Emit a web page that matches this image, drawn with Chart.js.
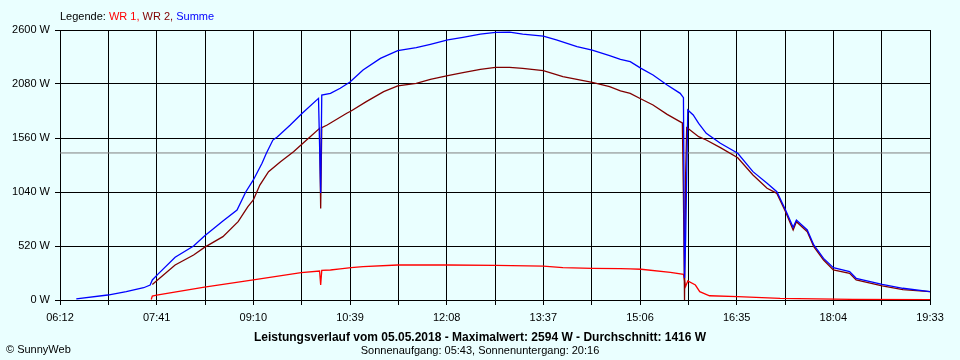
<!DOCTYPE html>
<html>
<head>
<meta charset="utf-8">
<script src="https://cdn.jsdelivr.net/npm/chart.js@4/dist/chart.umd.min.js"></script>
<style>
  body { margin: 0; background: #eaffff; font-family: "Liberation Sans", Arial, sans-serif; }
  #wrap { position: relative; width: 960px; height: 360px; }
  .txt { position: absolute; font-size: 11px; line-height: 13px; white-space: nowrap; color: #000; }
</style>
</head>
<body>
<div id="wrap">
  <canvas id="chart" width="960" height="360"></canvas>
  <div class="txt" style="left:60px; top:10px;">Legende: <span style="color:#ff0000">WR 1,</span> <span style="color:#800000">WR 2,</span> <span style="color:#0000ff">Summe</span></div>
  <div class="txt" style="left:0; width:960px; top:330px; text-align:center; font-weight:bold; font-size:12px; line-height:14px;">Leistungsverlauf vom 05.05.2018 - Maximalwert: 2594 W - Durchschnitt: 1416 W</div>
  <div class="txt" style="left:0; width:960px; top:344px; text-align:center;">Sonnenaufgang: 05:43, Sonnenuntergang: 20:16</div>
  <div class="txt" style="left:6px; top:343px;">&copy; SunnyWeb</div>
</div>
<script>
// axis labels
const tickTimes = ['06:12', '07:41', '09:10', '10:39', '12:08', '13:37', '15:06', '16:35', '18:04', '19:33'];
const yTicks = [0, 520, 1040, 1560, 2080, 2600];
const avgValue = 1416;

// WR 1
const wr1Times = ['07:36', '07:37', '07:41', '08:25', '09:10', '09:54', '10:11', '10:12', '10:13', '10:21', '10:30', '10:40', '10:51', '11:23', '12:09', '12:53', '13:37', '13:55', '14:22', '14:48', '14:57', '15:07', '15:34', '15:46', '15:48', '15:50', '15:57', '16:01', '16:10', '16:36', '17:15', '18:22', '19:33'];
const wr1Values = [5, 38, 48, 125, 193, 263, 279, 144, 285, 289, 299, 311, 321, 337, 337, 334, 327, 311, 305, 302, 299, 296, 267, 247, 130, 183, 144, 80, 41, 32, 16, 6, 3];

// WR 2
const wr2Times = ['07:37', '07:41', '07:58', '08:15', '08:25', '08:42', '08:56', '09:05', '09:10', '09:16', '09:24', '09:35', '09:47', '09:59', '10:11', '10:12', '10:13', '10:18', '10:36', '10:40', '10:54', '11:10', '11:23', '11:40', '11:53', '12:09', '12:23', '12:39', '12:53', '13:06', '13:18', '13:37', '13:55', '14:22', '14:38', '14:48', '14:57', '15:07', '15:18', '15:31', '15:44', '15:45', '15:46', '15:47', '15:48', '15:49', '15:50', '16:00', '16:07', '16:20', '16:36', '16:50', '17:03', '17:12', '17:20', '17:27', '17:30', '17:40', '17:46', '17:55', '18:04', '18:19', '18:25', '18:49', '19:08', '19:33'];
const wr2Values = [150, 186, 337, 433, 507, 610, 754, 899, 963, 1107, 1236, 1332, 1428, 1541, 1653, 880, 1660, 1685, 1798, 1820, 1910, 2006, 2061, 2087, 2125, 2160, 2189, 2221, 2241, 2241, 2231, 2208, 2150, 2096, 2054, 2013, 1990, 1936, 1878, 1788, 1711, 1705, 1000, 0, 1200, 1660, 1653, 1573, 1541, 1467, 1370, 1204, 1076, 1027, 850, 674, 754, 658, 514, 385, 289, 257, 193, 135, 99, 80];

// Summe
const sumTimes = ['06:27', '06:56', '07:13', '07:29', '07:35', '07:37', '07:42', '07:58', '08:15', '08:25', '08:42', '08:55', '09:03', '09:10', '09:18', '09:22', '09:28', '09:32', '09:44', '09:55', '10:10', '10:12', '10:13', '10:21', '10:30', '10:39', '10:51', '11:07', '11:23', '11:40', '11:53', '12:09', '12:23', '12:39', '12:53', '13:06', '13:18', '13:37', '13:49', '14:08', '14:22', '14:38', '14:48', '14:57', '15:07', '15:18', '15:31', '15:43', '15:46', '15:47', '15:48', '15:50', '15:55', '16:00', '16:07', '16:20', '16:36', '16:50', '17:03', '17:12', '17:20', '17:27', '17:30', '17:40', '17:46', '17:55', '18:04', '18:19', '18:25', '18:49', '19:08', '19:33'];
const sumValues = [10, 48, 80, 118, 144, 193, 247, 411, 520, 616, 761, 867, 1040, 1156, 1316, 1413, 1540, 1570, 1685, 1798, 1942, 1030, 1974, 1990, 2039, 2100, 2215, 2327, 2401, 2430, 2462, 2504, 2530, 2561, 2577, 2580, 2561, 2542, 2504, 2440, 2407, 2353, 2318, 2295, 2231, 2167, 2071, 1990, 1948, 212, 578, 1830, 1782, 1701, 1605, 1509, 1413, 1236, 1124, 1043, 867, 700, 770, 674, 530, 401, 311, 273, 209, 151, 113, 80];

function toMin(s) {
  const parts = s.split(':').map(Number);
  return parts[0] * 60 + parts[1];
}
function fmtTime(v) {
  const h = Math.floor(v / 60), m = Math.round(v % 60);
  return String(h).padStart(2, '0') + ':' + String(m).padStart(2, '0');
}
function points(times, values) {
  return times.map((t, i) => ({ x: toMin(t), y: values[i] }));
}

const labelMins = tickTimes.map(toMin);
// grid lines: every label plus one halfway between
const gridMins = [];
labelMins.forEach((v, i) => {
  gridMins.push(v);
  if (i < labelMins.length - 1) gridMins.push((v + labelMins[i + 1]) / 2);
});
const xMin = labelMins[0], xMax = labelMins[labelMins.length - 1];

new Chart(document.querySelector('#chart'), {
  type: 'line',
  data: {
    datasets: [
      { label: 'Summe', data: points(sumTimes, sumValues), borderColor: '#0000ff', order: 1 },
      { label: 'WR 2', data: points(wr2Times, wr2Values), borderColor: '#800000', order: 2 },
      { label: 'WR 1', data: points(wr1Times, wr1Values), borderColor: '#ff0000', order: 3 },
      { label: 'avg', data: [{ x: xMin, y: avgValue }, { x: xMax, y: avgValue }], borderColor: '#808080', borderWidth: 1, order: 4 }
    ]
  },
  options: {
    responsive: false,
    animation: false,
    layout: { padding: { left: 0, right: 30, top: 30, bottom: 0 } },
    elements: {
      point: { radius: 0 },
      line: { borderWidth: 1.3, tension: 0 }
    },
    plugins: {
      legend: { display: false },
      tooltip: { enabled: false },
      title: { display: false }
    },
    scales: {
      x: {
        type: 'linear',
        min: xMin,
        max: xMax,
        afterBuildTicks: scale => { scale.ticks = gridMins.map(v => ({ value: v })); },
        afterFit: scale => { scale.height = 60; },
        ticks: {
          autoSkip: false,
          maxRotation: 0,
          padding: 6,
          color: '#000',
          font: { family: 'Liberation Sans', size: 11 },
          callback: value => labelMins.includes(value) ? fmtTime(value) : ''
        },
        grid: { color: '#000', lineWidth: 1, tickLength: 5 },
        border: { color: '#000', width: 1 }
      },
      y: {
        min: yTicks[0],
        max: yTicks[yTicks.length - 1],
        afterBuildTicks: scale => { scale.ticks = yTicks.map(v => ({ value: v })); },
        afterFit: scale => { scale.width = 60; },
        ticks: {
          padding: 5,
          color: '#000',
          font: { family: 'Liberation Sans', size: 11 },
          callback: value => value + ' W'
        },
        grid: { color: '#000', lineWidth: 1, tickLength: 5 },
        border: { color: '#000', width: 1 }
      }
    }
  }
});
</script>
</body>
</html>
